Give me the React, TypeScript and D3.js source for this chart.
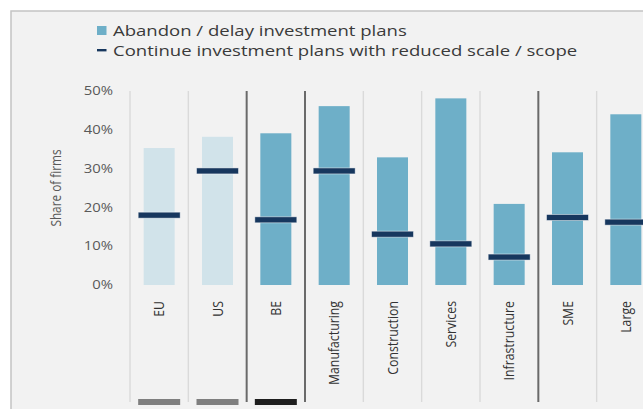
import React from "react";
import * as d3 from "d3";

const categories = ["EU", "US", "BE", "Manufacturing", "Construction", "Services", "Infrastructure", "SME", "Large"];
const abandonValues = [35.3, 38.2, 39.1, 46.1, 32.9, 48.1, 20.9, 34.2, 44.0];
const reducedValues = [18.0, 29.4, 16.8, 29.4, 13.1, 10.6, 7.2, 17.4, 16.2];
const benchmark = [true, true, false, false, false, false, false, false, false];
const groupStarts = ["BE", "Manufacturing", "SME"];
const bottomMarks = [
  { cat: "EU", kind: "ref" },
  { cat: "US", kind: "ref" },
  { cat: "BE", kind: "own" },
];
const yTicks = [0, 10, 20, 30, 40, 50];
const legendItems = ["Abandon / delay investment plans", "Continue investment plans with reduced scale / scope"];

const W = 643;
const H = 409;
const SX = 1.22;
const FONT = "'Open Sans', sans-serif";

export default function App() {
  const x = d3.scaleBand<string>().domain(categories).range([130, 655]).padding(0);
  const y = d3.scaleLinear().domain([0, 50]).range([285, 91]);
  const bw = 31;
  const mw = 42;
  const mh = 6;
  const step = x.step();

  return (
    <svg width={W} height={H} style={{ position: "absolute", left: 0, top: 0, background: "#fff" }}>
      <rect x={11} y={11} width={W} height={H} fill="#f2f2f2" stroke="#c4c4c4" strokeWidth={1.5} />
      {/* legend */}
      <rect x={97} y={26} width={9.5} height={9} fill="#6eafc8" />
      <rect x={97} y={49} width={9.5} height={2.4} fill="#17375e" />
      {legendItems.map((t, i) => (
        <text
          key={t}
          transform={`translate(113,${35.5 + i * 20}) scale(${SX},1)`}
          fontFamily={FONT}
          fontSize={15.2}
          fill="#3a3a3a"
        >
          {t}
        </text>
      ))}
      {/* separators */}
      {categories.map((c) => {
        const dark = groupStarts.includes(c);
        const xx = x(c)!;
        return (
          <line
            key={"s" + c}
            x1={xx}
            x2={xx}
            y1={y(50)}
            y2={402}
            stroke={dark ? "#6a6a6a" : "#dadada"}
            strokeWidth={dark ? 2 : 1.4}
          />
        );
      })}
      {/* y ticks */}
      {yTicks.map((t) => (
        <text
          key={"t" + t}
          transform={`translate(113,${y(t) + 4.2}) scale(${SX},1)`}
          textAnchor="end"
          fontFamily={FONT}
          fontSize={12.2}
          fill="#595959"
        >
          {t + "%"}
        </text>
      ))}
      <text
        transform={`translate(61,${y(25)}) scale(${SX},1) rotate(-90)`}
        textAnchor="middle"
        fontFamily={FONT}
        fontSize={11.8}
        fill="#595959"
      >
        Share of firms
      </text>
      {/* bars */}
      {categories.map((c, i) => {
        const cx = x(c)! + step / 2;
        return (
          <rect
            key={"b" + c}
            x={cx - bw / 2}
            y={y(abandonValues[i])}
            width={bw}
            height={y(0) - y(abandonValues[i])}
            fill={benchmark[i] ? "#d1e3ea" : "#6eafc8"}
          />
        );
      })}
      {/* markers */}
      {categories.map((c, i) => {
        const cx = x(c)! + step / 2;
        return (
          <rect
            key={"m" + c}
            x={cx - mw / 2}
            y={y(reducedValues[i]) - mh / 2}
            width={mw}
            height={mh}
            fill="#17375e"
            stroke="#ffffff"
            strokeOpacity={0.6}
            strokeWidth={0.8}
          />
        );
      })}
      {/* category labels */}
      {categories.map((c) => {
        const cx = x(c)! + step / 2;
        return (
          <text
            key={"l" + c}
            transform={`translate(${cx + 5},301) scale(${SX},1) rotate(-90)`}
            textAnchor="end"
            fontFamily={FONT}
            fontSize={12.3}
            fill="#333333"
          >
            {c}
          </text>
        );
      })}
      {/* bottom marks */}
      {bottomMarks.map((m) => {
        const cx = x(m.cat)! + step / 2;
        return (
          <rect
            key={"bm" + m.cat}
            x={cx - mw / 2}
            y={399}
            width={mw}
            height={6}
            fill={m.kind === "ref" ? "#7f7f7f" : "#1e1e1e"}
          />
        );
      })}
    </svg>
  );
}
